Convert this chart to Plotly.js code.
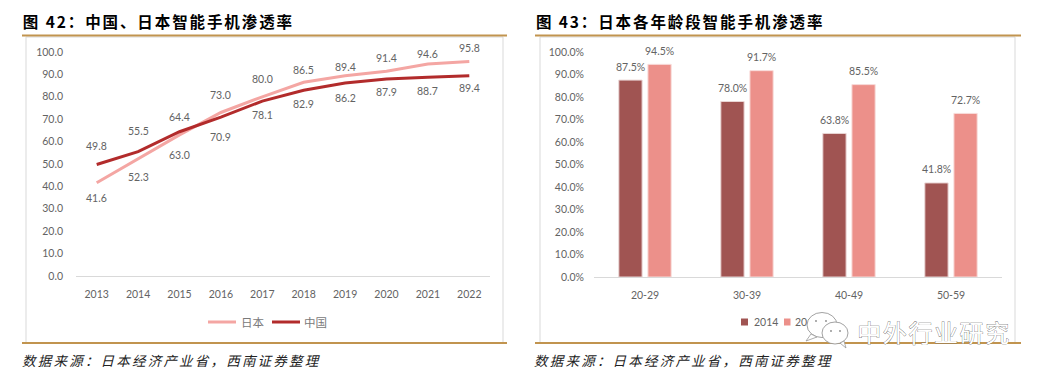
<!DOCTYPE html>
<html><head><meta charset="utf-8">
<script src="https://cdn.plot.ly/plotly-3.0.1.min.js"></script>
<style>
html,body{margin:0;padding:0;background:#fff;overflow:hidden}
#wrap{position:relative;width:1044px;height:377px}
#c{width:1044px;height:377px}
#icon{position:absolute;left:0;top:0;pointer-events:none}
.annotation[data-index="0"] text,.annotation[data-index="1"] text{letter-spacing:1.9px}
.annotation[data-index="2"] text,.annotation[data-index="3"] text{letter-spacing:2.2px}
.annotation[data-index="4"] text{letter-spacing:1.6px;stroke:#555;stroke-width:.6px;paint-order:stroke}
</style></head><body><div id="wrap"><div id="c"></div>
<svg id="icon" width="1044" height="377" viewBox="0 0 1044 377">
  <g fill="#fff" stroke="#8a8a8a" stroke-width=".8">
    <ellipse cx="822" cy="325" rx="15" ry="12.5"/>
    <path d="M811 334 L806 341 L817 337 Z" stroke="#999"/>
    <ellipse cx="835" cy="333" rx="13" ry="11"/>
    <path d="M840 343 L846 348 L844 341 Z" stroke="#999"/>
  </g>
  <g fill="#888"><circle cx="816" cy="321" r=".9"/><circle cx="826" cy="321" r=".9"/><circle cx="831" cy="331" r=".9"/><circle cx="840" cy="331" r=".9"/></g>
</svg></div>
<script>
// ---- data ----
const years = ['2013','2014','2015','2016','2017','2018','2019','2020','2021','2022'];
const japan = [41.6,52.3,63.0,73.0,80.0,86.5,89.4,91.4,94.6,95.8];
const china = [49.8,55.5,64.4,70.9,78.1,82.9,86.2,87.9,88.7,89.4];
const japanLabelOffsets = [15,18,20,-17,-18,-12,-9,-13,-10,-13];
const chinaLabelOffsets = [-18,-21,-15,20,14,14,15,13,14,12];
const ageGroups = ['20-29','30-39','40-49','50-59'];
const share2014 = [87.5,78.0,63.8,41.8];
const share2019 = [94.5,91.7,85.5,72.7];
const yTicks = [0,10,20,30,40,50,60,70,80,90,100];
const title42 = '图 42：中国、日本智能手机渗透率';
const title43 = '图 43：日本各年龄段智能手机渗透率';
const source = '数据来源：日本经济产业省，西南证券整理';
const watermark = '中外行业研究';

// ---- style ----
const W = 1044, H = 377;
const px = x => x / W, py = y => 1 - y / H;
const TXT = '#636363', LEG = '#7a7a7a', FONT = 'Lato, "Noto Sans CJK SC", sans-serif', CJK = '"Noto Sans CJK SC", sans-serif';
const JP = '#F4A6A3', CN = '#B22B2B', B1 = '#A05452', B2 = '#EC908A', GOLD = '#C1944F', FRAME = '#D9D9D9';
const FS = 10.5;

const traces = [
  {type:'scatter',mode:'lines',name:'日本',x:years,y:japan,xaxis:'x',yaxis:'y',showlegend:false,line:{color:JP,width:3},hoverinfo:'skip'},
  {type:'scatter',mode:'lines',name:'中国',x:years,y:china,xaxis:'x',yaxis:'y',showlegend:false,line:{color:CN,width:3},hoverinfo:'skip'},
  {type:'bar',name:'2014',x:ageGroups,y:share2014,xaxis:'x2',yaxis:'y2',showlegend:false,marker:{color:B1,line:{color:'#E9D5D4',width:1}},hoverinfo:'skip'},
  {type:'bar',name:'2019',x:ageGroups,y:share2019,xaxis:'x2',yaxis:'y2',showlegend:false,marker:{color:B2,line:{color:'#F8DCDA',width:1}},hoverinfo:'skip'}
];

const text = (t,x,y,font,anchor) => ({text:t,xref:'paper',yref:'paper',x:px(x),y:py(y),xanchor:anchor||'center',yanchor:'middle',showarrow:false,font:font});
const annotations = [
  text(title42,158.5,21,{family:CJK,size:15.5,color:'#000',weight:700}),
  text(title43,679.5,21,{family:CJK,size:15.5,color:'#000',weight:700}),
  text('<i>'+source+'</i>',172,360,{family:CJK,size:13.5,color:'#222'}),
  text('<i>'+source+'</i>',684.5,360,{family:CJK,size:13.5,color:'#222'}),
  text(watermark,933.5,331,{family:CJK,size:24,color:'#fff'}),
  text('日本',239,322,{family:CJK,size:11.5,color:LEG},'left'),
  text('中国',302,322,{family:CJK,size:11.5,color:LEG},'left'),
  text('2014',752,322,{family:FONT,size:FS,color:TXT},'left'),
  text('2019',793,322,{family:FONT,size:FS,color:TXT},'left')
];
years.forEach((yr,i)=>{
  const lab = (v,off)=>({text:v.toFixed(1),x:i,y:v,xref:'x',yref:'y',showarrow:false,yshift:-off,xanchor:'center',yanchor:'middle',
    font:{family:FONT,size:FS,color:TXT}});
  annotations.push(lab(japan[i],japanLabelOffsets[i]));
  annotations.push(lab(china[i],chinaLabelOffsets[i]));
});
ageGroups.forEach((g,i)=>{
  const lab = (v,dx)=>({text:v.toFixed(1)+'%',x:i,y:v,xref:'x2',yref:'y2',showarrow:false,xshift:dx,yshift:13.5,xanchor:'center',yanchor:'middle',
    font:{family:FONT,size:FS,color:TXT}});
  annotations.push(lab(share2014[i],-14.5));
  annotations.push(lab(share2019[i],14.5));
});

const rect = (x0,y0,x1,y1,line,fill) => ({type:'rect',xref:'paper',yref:'paper',x0:px(x0),x1:px(x1),y0:py(y0),y1:py(y1),
  line:line?{color:line,width:1}:{width:0},fillcolor:fill||'rgba(0,0,0,0)',layer:'below'});
const hline = (x0,x1,y,color,width) => ({type:'line',xref:'paper',yref:'paper',x0:px(x0),x1:px(x1),y0:py(y),y1:py(y),line:{color:color,width:width},layer:'below'});

const axisY = d => ({domain:d,range:[0,100],tickmode:'array',tickvals:yTicks,showgrid:false,zeroline:false,showline:false,ticks:'',
  tickfont:{family:FONT,size:FS,color:TXT}});
const axisX = (d,anchor,n) => ({domain:d,anchor:anchor,type:'category',range:[-0.5,n-0.5],showgrid:false,zeroline:false,showline:true,linecolor:FRAME,linewidth:1,ticks:'',
  tickfont:{family:FONT,size:FS,color:TXT},ticklabelstandoff:8});

const layout = {
  width:W,height:H,margin:{l:0,r:0,t:0,b:0},paper_bgcolor:'#fff',plot_bgcolor:'rgba(0,0,0,0)',
  barmode:'group',bargap:.43,bargroupgap:.2,showlegend:false,
  xaxis:axisX([px(76),px(490)],'y',years.length),
  yaxis:Object.assign(axisY([py(276),py(52)]),{anchor:'x',tickformat:'.1f',ticklabelstandoff:12}),
  xaxis2:axisX([px(594),px(1002)],'y2',ageGroups.length),
  yaxis2:Object.assign(axisY([py(277),py(52)]),{anchor:'x2',ticktext:yTicks.map(v=>v.toFixed(1)+'%'),ticklabelstandoff:9}),
  annotations:annotations,
  shapes:[
    rect(26,37,503,343,FRAME,'#fff'),rect(540,37,1015,343,FRAME,'#fff'),
    hline(22,507,35.5,GOLD,2),hline(22,507,343,GOLD,2),hline(535,1021,35.5,GOLD,2),hline(535,1021,343,GOLD,2),
    hline(208,236,322,JP,3),hline(272,300,322,CN,3),
    rect(741,318.5,748,325.5,null,B1),rect(784,318.5,790.5,325.5,null,B2)
  ]
};
Plotly.newPlot('c',traces,layout,{staticPlot:true,displayModeBar:false});
</script></body></html>
